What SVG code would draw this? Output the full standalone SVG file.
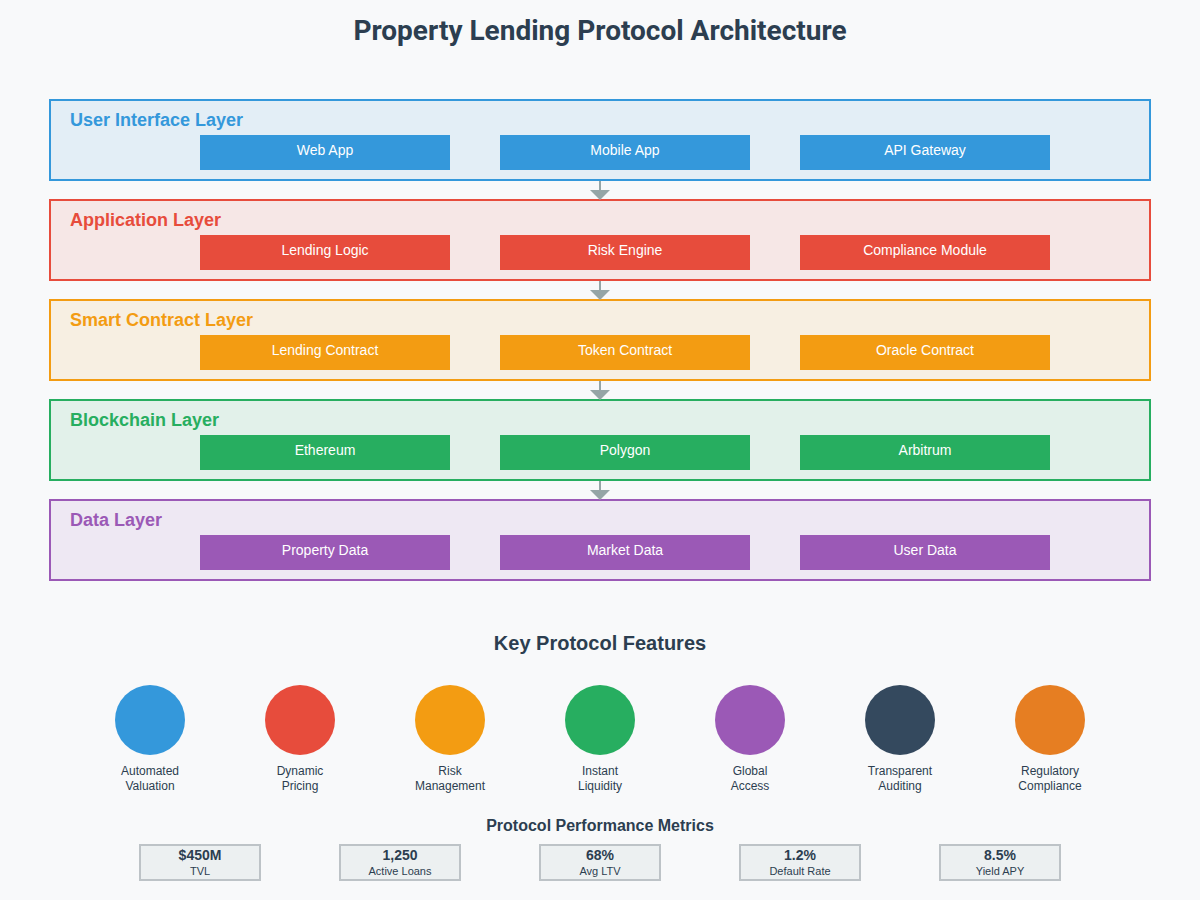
<svg xmlns="http://www.w3.org/2000/svg" width="1200" height="900" viewBox="0 0 1200 900">
<defs>
<style>
.title{font-family:Roboto,"Liberation Sans",sans-serif;font-weight:bold;font-size:28px;fill:#2c3e50;text-anchor:middle}
.ltitle{font-family:"Liberation Sans",Arial,sans-serif;font-weight:bold;font-size:18px}
.btxt{font-family:"Liberation Sans",Arial,sans-serif;font-size:14px;fill:#ffffff;text-anchor:middle}
.h2{font-family:"Liberation Sans",Arial,sans-serif;font-weight:bold;font-size:20px;fill:#2c3e50;text-anchor:middle}
.h3{font-family:"Liberation Sans",Arial,sans-serif;font-weight:bold;font-size:16px;fill:#2c3e50;text-anchor:middle}
.flab{font-family:"Liberation Sans",Arial,sans-serif;font-size:12px;fill:#2c3e50;text-anchor:middle}
.mval{font-family:"Liberation Sans",Arial,sans-serif;font-weight:bold;font-size:14px;fill:#2c3e50;text-anchor:middle}
.mlab{font-family:"Liberation Sans",Arial,sans-serif;font-size:11px;fill:#2c3e50;text-anchor:middle}
.mbox{fill:#ecf0f1;stroke:#bdc3c7;stroke-width:2}
.layer{stroke-width:2;fill-opacity:0.1}
.conn{stroke:#95a5a6;stroke-width:2;fill:none}
.head{fill:#95a5a6}
</style>
</defs>
<rect width="1200" height="900" fill="#f8f9fa"/>
<text class="title" x="600" y="40">Property Lending Protocol Architecture</text>

<g id="layer-ui">
<rect class="layer" x="50" y="100" width="1100" height="80" fill="#3498db" stroke="#3498db"/>
<text class="ltitle" x="70" y="126" fill="#3498db">User Interface Layer</text>
<rect x="200" y="135" width="250" height="35" fill="#3498db"/><text class="btxt" x="325" y="155">Web App</text>
<rect x="500" y="135" width="250" height="35" fill="#3498db"/><text class="btxt" x="625" y="155">Mobile App</text>
<rect x="800" y="135" width="250" height="35" fill="#3498db"/><text class="btxt" x="925" y="155">API Gateway</text>
</g>
<g id="layer-app">
<rect class="layer" x="50" y="200" width="1100" height="80" fill="#e74c3c" stroke="#e74c3c"/>
<text class="ltitle" x="70" y="226" fill="#e74c3c">Application Layer</text>
<rect x="200" y="235" width="250" height="35" fill="#e74c3c"/><text class="btxt" x="325" y="255">Lending Logic</text>
<rect x="500" y="235" width="250" height="35" fill="#e74c3c"/><text class="btxt" x="625" y="255">Risk Engine</text>
<rect x="800" y="235" width="250" height="35" fill="#e74c3c"/><text class="btxt" x="925" y="255">Compliance Module</text>
</g>
<g id="layer-sc">
<rect class="layer" x="50" y="300" width="1100" height="80" fill="#f39c12" stroke="#f39c12"/>
<text class="ltitle" x="70" y="326" fill="#f39c12">Smart Contract Layer</text>
<rect x="200" y="335" width="250" height="35" fill="#f39c12"/><text class="btxt" x="325" y="355">Lending Contract</text>
<rect x="500" y="335" width="250" height="35" fill="#f39c12"/><text class="btxt" x="625" y="355">Token Contract</text>
<rect x="800" y="335" width="250" height="35" fill="#f39c12"/><text class="btxt" x="925" y="355">Oracle Contract</text>
</g>
<g id="layer-bc">
<rect class="layer" x="50" y="400" width="1100" height="80" fill="#27ae60" stroke="#27ae60"/>
<text class="ltitle" x="70" y="426" fill="#27ae60">Blockchain Layer</text>
<rect x="200" y="435" width="250" height="35" fill="#27ae60"/><text class="btxt" x="325" y="455">Ethereum</text>
<rect x="500" y="435" width="250" height="35" fill="#27ae60"/><text class="btxt" x="625" y="455">Polygon</text>
<rect x="800" y="435" width="250" height="35" fill="#27ae60"/><text class="btxt" x="925" y="455">Arbitrum</text>
</g>
<g id="layer-data">
<rect class="layer" x="50" y="500" width="1100" height="80" fill="#9b59b6" stroke="#9b59b6"/>
<text class="ltitle" x="70" y="526" fill="#9b59b6">Data Layer</text>
<rect x="200" y="535" width="250" height="35" fill="#9b59b6"/><text class="btxt" x="325" y="555">Property Data</text>
<rect x="500" y="535" width="250" height="35" fill="#9b59b6"/><text class="btxt" x="625" y="555">Market Data</text>
<rect x="800" y="535" width="250" height="35" fill="#9b59b6"/><text class="btxt" x="925" y="555">User Data</text>
</g>

<g id="connectors">
<line class="conn" x1="600" y1="181" x2="600" y2="191"/><path class="head" d="M590,190 L610,190 L600,200 Z"/>
<line class="conn" x1="600" y1="281" x2="600" y2="291"/><path class="head" d="M590,290 L610,290 L600,300 Z"/>
<line class="conn" x1="600" y1="381" x2="600" y2="391"/><path class="head" d="M590,390 L610,390 L600,400 Z"/>
<line class="conn" x1="600" y1="481" x2="600" y2="491"/><path class="head" d="M590,490 L610,490 L600,500 Z"/>
</g>

<text class="h2" x="600" y="650">Key Protocol Features</text>
<g id="feat-1"><circle cx="150" cy="720" r="35" fill="#3498db"/><text class="flab" x="150" y="775">Automated</text><text class="flab" x="150" y="790">Valuation</text></g>
<g id="feat-2"><circle cx="300" cy="720" r="35" fill="#e74c3c"/><text class="flab" x="300" y="775">Dynamic</text><text class="flab" x="300" y="790">Pricing</text></g>
<g id="feat-3"><circle cx="450" cy="720" r="35" fill="#f39c12"/><text class="flab" x="450" y="775">Risk</text><text class="flab" x="450" y="790">Management</text></g>
<g id="feat-4"><circle cx="600" cy="720" r="35" fill="#27ae60"/><text class="flab" x="600" y="775">Instant</text><text class="flab" x="600" y="790">Liquidity</text></g>
<g id="feat-5"><circle cx="750" cy="720" r="35" fill="#9b59b6"/><text class="flab" x="750" y="775">Global</text><text class="flab" x="750" y="790">Access</text></g>
<g id="feat-6"><circle cx="900" cy="720" r="35" fill="#34495e"/><text class="flab" x="900" y="775">Transparent</text><text class="flab" x="900" y="790">Auditing</text></g>
<g id="feat-7"><circle cx="1050" cy="720" r="35" fill="#e67e22"/><text class="flab" x="1050" y="775">Regulatory</text><text class="flab" x="1050" y="790">Compliance</text></g>

<text class="h3" x="600" y="831">Protocol Performance Metrics</text>
<g id="metric-1"><rect class="mbox" x="140" y="845" width="120" height="35"/><text class="mval" x="200" y="860">$450M</text><text class="mlab" x="200" y="875">TVL</text></g>
<g id="metric-2"><rect class="mbox" x="340" y="845" width="120" height="35"/><text class="mval" x="400" y="860">1,250</text><text class="mlab" x="400" y="875">Active Loans</text></g>
<g id="metric-3"><rect class="mbox" x="540" y="845" width="120" height="35"/><text class="mval" x="600" y="860">68%</text><text class="mlab" x="600" y="875">Avg LTV</text></g>
<g id="metric-4"><rect class="mbox" x="740" y="845" width="120" height="35"/><text class="mval" x="800" y="860">1.2%</text><text class="mlab" x="800" y="875">Default Rate</text></g>
<g id="metric-5"><rect class="mbox" x="940" y="845" width="120" height="35"/><text class="mval" x="1000" y="860">8.5%</text><text class="mlab" x="1000" y="875">Yield APY</text></g>
</svg>
